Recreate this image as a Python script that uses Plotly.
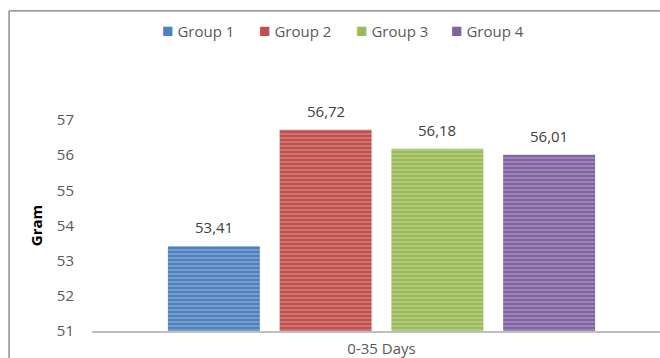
import plotly.graph_objects as go

categories = ["0-35 Days"]
groups = ["Group 1", "Group 2", "Group 3", "Group 4"]
values = [53.41, 56.72, 56.18, 56.01]
colors = ["#4F81BD", "#C0504D", "#9BBB59", "#8064A2"]
stripe = ["#B9CDE8", "#E8B9B8", "#D7E6B9", "#CFC2DF"]
yticks = [51, 52, 53, 54, 55, 56, 57]
legend_x = [0.186, 0.358, 0.529, 0.697]

FONT = "Open Sans"
BARGAP = 0.228
fig = go.Figure()
for g, v, c, s in zip(groups, values, colors, stripe):
    fig.add_trace(go.Bar(
        x=categories, y=[v], name=g, showlegend=False,
        marker=dict(color=c, line=dict(width=0),
                    pattern=dict(shape="-", size=4, solidity=0.35, fgcolor=s, bgcolor=c)),
    ))

annotations = []
n = len(values)
gw = 1 - BARGAP
for i, v in enumerate(values):
    xc = -gw / 2 + gw / n * (i + 0.5)
    annotations.append(dict(x=xc, y=v, xref="x", yref="y", text=f"{v:.2f}".replace(".", ","),
                            showarrow=False, yanchor="bottom", yshift=7,
                            font=dict(family=FONT, size=15, color="#404040")))
legend_y = (331 - 30) / (331 - 120)
for g, c, lx in zip(groups, colors, legend_x):
    annotations.append(dict(x=lx, y=legend_y, xref="paper", yref="paper",
                            xanchor="center", yanchor="middle",
                            text=f"<span style='color:{c};font-size:19px'>■</span> {g}", showarrow=False,
                            font=dict(family=FONT, size=15, color="#595959")))

fig.update_layout(
    width=660, height=358,
    margin=dict(l=92, r=0, t=120, b=27),
    paper_bgcolor="white", plot_bgcolor="white",
    barmode="group", bargap=BARGAP, bargroupgap=0.177,
    annotations=annotations,
    xaxis=dict(range=[-0.5, 0.481], showline=True, linecolor="#BFBFBF", linewidth=2,
               showgrid=False, ticks="", ticklabelstandoff=3, automargin=False,
               tickfont=dict(family=FONT, size=15, color="#595959"),
               fixedrange=True),
    yaxis=dict(range=[51, 57], tickvals=yticks, showgrid=False, zeroline=False, showline=False,
               ticks="", ticklabelstandoff=17, automargin=False,
               tickfont=dict(family=FONT, size=15, color="#595959"),
               title=dict(text="<b>Gram</b>", font=dict(family=FONT, size=15, color="#000000"), standoff=10)),
    shapes=[
        dict(type="line", xref="paper", yref="paper", x0=-0.146, x1=1.2, y0=1.517, y1=1.517,
             line=dict(color="#595959", width=1)),
        dict(type="line", xref="paper", yref="paper", x0=-0.146, x1=-0.146, y0=-0.2, y1=1.517,
             line=dict(color="#595959", width=1)),
    ],
)
fig.write_html("out.html")
